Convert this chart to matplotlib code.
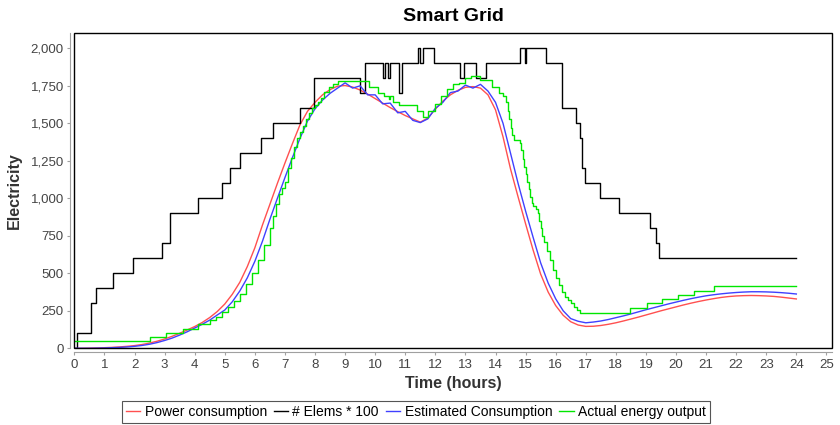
import numpy as np
import matplotlib.pyplot as plt
from matplotlib.patches import Rectangle
from matplotlib.ticker import FuncFormatter, MultipleLocator

plt.rcParams['font.family'] = ['Liberation Sans', 'DejaVu Sans']

# data

# power consumption, every 15 min from 0h to 24h
hours = np.arange(0, 24.01, 0.25)
power = [0, 0, 1, 2, 4, 6, 9, 13, 18, 25, 35, 47, 62, 80, 100, 122,
         145, 172, 205, 245, 295, 360, 440, 545, 670, 820, 960, 1100,
         1235, 1365, 1490, 1580, 1640, 1690, 1725, 1748, 1752, 1742, 1722, 1695,
         1665, 1635, 1605, 1578, 1552, 1530, 1508, 1535, 1595, 1648, 1690, 1720,
         1740, 1745, 1735, 1690, 1590, 1410, 1195, 1010, 830, 655, 495, 375,
         285, 220, 177, 155, 146, 147, 152, 160, 170, 182, 195, 208,
         222, 236, 250, 263, 276, 289, 301, 312, 322, 331, 339, 345,
         349, 351, 352, 351, 349, 346, 341, 335, 329]

# estimated consumption, same 15 min grid
estimated = [0, 0, 0, 1, 2, 4, 6, 9, 13, 19, 27, 38, 52, 68, 88, 110,
             135, 160, 188, 222, 255, 310, 382, 470, 580, 712, 860, 1000,
             1138, 1272, 1400, 1515, 1597, 1655, 1700, 1735, 1770, 1735, 1750, 1690,
             1690, 1630, 1635, 1570, 1580, 1520, 1505, 1530, 1600, 1640, 1705, 1715,
             1755, 1735, 1760, 1715, 1640, 1500, 1300, 1100, 915, 740, 570, 435,
             330, 250, 198, 180, 170, 175, 182, 192, 204, 216, 229, 243,
             257, 270, 283, 296, 308, 320, 331, 341, 350, 357, 363, 368,
             372, 375, 377, 377, 376, 374, 371, 367, 362]

# number of elements (x100), change points of the step line
elem_hours = [0, 0.08, 0.54, 0.72, 1.27, 1.96, 2.90, 3.17, 4.11, 4.92, 5.16, 5.52,
              6.22, 6.60, 7.49, 7.96, 9.48, 9.67, 10.25, 10.33, 10.41, 10.49,
              10.80, 10.88, 11.44, 11.50, 11.58, 11.96, 12.82, 12.96, 13.35, 13.68,
              14.81, 14.97, 15.03, 15.69, 16.20, 16.68, 16.80, 16.86, 16.96, 17.49,
              18.12, 19.15, 19.32, 19.43, 24.0]
elem_counts = [0, 1, 3, 4, 5, 6, 7, 9, 10, 11, 12, 13,
               14, 15, 16, 18, 17, 19, 18, 19, 18, 19,
               17, 19, 20, 19, 20, 19, 18, 19, 18, 19,
               20, 19, 20, 19, 16, 15, 14, 12, 11, 10,
               9, 8, 7, 6, 6]

# actual energy output, change points of the step line
actual_hours = [0, 2.5, 3.06, 3.62, 4.11, 4.5, 4.7, 4.9, 5.1, 5.3, 5.5, 5.7,
                5.9, 6.1, 6.3, 6.5, 6.6, 6.7, 6.8, 6.9, 7.0, 7.1, 7.2, 7.3,
                7.4, 7.5, 7.6, 7.7, 7.8, 7.9, 8.0, 8.1, 8.2, 8.3, 8.45, 8.6,
                8.75, 9.0, 9.5, 9.8, 10.1, 10.3, 10.45, 10.5, 10.6, 10.8, 11.2, 11.4,
                11.6, 11.75, 12.0, 12.2, 12.4, 12.6, 12.8, 13.0, 13.2, 13.5, 13.9, 14.1,
                14.25, 14.35, 14.4, 14.45, 14.5, 14.55, 14.6, 14.8, 14.85, 14.9, 14.95, 15.0,
                15.05, 15.1, 15.15, 15.2, 15.25, 15.35, 15.4, 15.45, 15.5, 15.55, 15.6, 15.7,
                15.8, 15.9, 16.0, 16.1, 16.2, 16.3, 16.4, 16.5, 16.6, 16.7, 16.8, 18.46,
                19.04, 19.54, 20.06, 20.59, 21.25, 24.0]
actual = [50, 73, 100, 129, 162, 190, 210, 240, 275, 315, 360, 430,
          500, 590, 690, 800, 880, 960, 1030, 1070, 1110, 1200, 1270, 1340,
          1400, 1440, 1480, 1530, 1570, 1600, 1620, 1645, 1670, 1710, 1740, 1765,
          1780, 1785, 1780, 1745, 1700, 1680, 1665, 1680, 1640, 1625, 1620, 1580,
          1545, 1580, 1630, 1680, 1730, 1760, 1770, 1800, 1815, 1790, 1745, 1700,
          1680, 1640, 1580, 1530, 1470, 1420, 1390, 1370, 1320, 1260, 1210, 1160,
          1110, 1060, 1010, 970, 950, 930, 900, 850, 800, 750, 710, 650,
          590, 520, 470, 420, 375, 345, 320, 300, 275, 255, 237, 267,
          300, 328, 355, 384, 415, 415]

fig = plt.figure(figsize=(8.4, 4.25), dpi=100)
ax = fig.add_axes([0.0885, 0.1805, 0.9025, 0.741])

ax.plot(hours, power, color='#ff5050', lw=1.0, label='Power consumption')
ax.plot(elem_hours, np.array(elem_counts) * 100, color='black', lw=1.0,
        drawstyle='steps-post', label='# Elems * 100')
ax.plot(hours, estimated, color='#4040ff', lw=1.0, label='Estimated Consumption')
ax.plot(actual_hours, actual, color='#00e600', lw=1.0, drawstyle='steps-post',
        label='Actual energy output')

ax.set_xlim(0, 25.2)
ax.set_ylim(0, 2100)
ax.xaxis.set_major_locator(MultipleLocator(1))
ax.yaxis.set_major_locator(MultipleLocator(250))
ax.yaxis.set_major_formatter(FuncFormatter(lambda v, p: f'{int(v):,}'))

# offset grey axes + black plot frame
for side in ['top', 'right']:
    ax.spines[side].set_visible(False)
for side in ['left', 'bottom']:
    ax.spines[side].set_position(('outward', 3))
    ax.spines[side].set_color('#a0a0a0')
ax.add_patch(Rectangle((0, 0), 1, 1, transform=ax.transAxes, fill=False,
                       edgecolor='black', lw=1.0, clip_on=False, zorder=5))
ax.tick_params(axis='both', colors='#a0a0a0', labelcolor='#444444',
               length=2.5, width=0.8, labelsize=9.5, pad=2)

ax.set_title('Smart Grid', fontsize=14, fontweight='bold', pad=9)
ax.set_xlabel('Time (hours)', fontsize=11.5, fontweight='bold', color='#333333',
              labelpad=4)
ax.set_ylabel('Electricity', fontsize=11.5, fontweight='bold', color='#333333',
              labelpad=6)

leg = fig.legend(loc='center', bbox_to_anchor=(0.495, 0.031), ncol=4,
                 fontsize=10, handlelength=1.05, handletextpad=0.3,
                 columnspacing=0.5, fancybox=False, borderpad=0.3,
                 framealpha=1)
leg.get_frame().set_edgecolor('#555555')
leg.get_frame().set_linewidth(0.8)

fig.savefig('out.png', dpi=100)
